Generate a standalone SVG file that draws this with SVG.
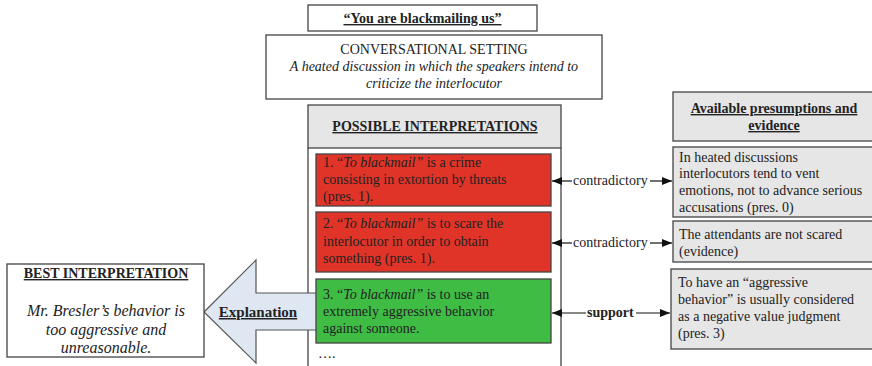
<svg xmlns="http://www.w3.org/2000/svg" width="872" height="366" viewBox="0 0 872 366">
<defs>
<style>
text{font-size:14px;fill:#222}
.b{font-weight:bold}
.u{text-decoration:underline}
.i{font-style:italic}
.c{text-anchor:middle}
.box{stroke:#444;stroke-width:1.3}
.gray{fill:#e6e6e6}
.wh{fill:#fff}
.red{fill:#e13428}
.green{fill:#3fbc44}
.ln{stroke:#111;stroke-width:1.2;fill:none;marker-end:url(#ah)}
</style>
<marker id="ah" viewBox="0 0 10 8" refX="10" refY="4" markerWidth="11" markerHeight="8" markerUnits="userSpaceOnUse" orient="auto">
<path d="M0,0 L10,4 L0,8 Z" fill="#111"/>
</marker>
</defs>
<rect width="872" height="366" fill="#fff"/>

<g id="title">
<rect class="box wh" x="308" y="5" width="229" height="26"/>
<text class="b u c" style="font-family:'Liberation Serif',serif" x="422.5" y="23">“You are blackmailing us”</text>
</g>

<g id="setting">
<rect class="box wh" x="266" y="35" width="336" height="64"/>
<text class="c" style="font-family:'Liberation Serif',serif" x="434" y="54">CONVERSATIONAL SETTING</text>
<text class="c i" style="font-family:'Liberation Serif',serif" x="434" y="71">A heated discussion in which the speakers intend to</text>
<text class="c i" style="font-family:'Liberation Serif',serif" x="434" y="88">criticize the interlocutor</text>
</g>

<g id="interpretations">
<path d="M308,148 V370 M561,148 V370" stroke="#444" stroke-width="1.3"/>
<rect class="box gray" x="308" y="105" width="253" height="43"/>
<text class="b u c" style="font-family:'Liberation Serif',serif" x="435" y="131">POSSIBLE INTERPRETATIONS</text>
<text style="font-family:'Liberation Serif',serif" x="318" y="358">….</text>
</g>

<g id="interp1">
<rect class="box red" x="316" y="154" width="235" height="52"/>
<text style="font-family:'Liberation Serif',serif" x="323" y="167">1. “<tspan class="i">To blackmail”</tspan> is a crime</text>
<text style="font-family:'Liberation Serif',serif" x="323" y="184">consisting in extortion by threats</text>
<text style="font-family:'Liberation Serif',serif" x="323" y="201">(pres. 1).</text>
</g>

<g id="interp2">
<rect class="box red" x="316" y="212" width="235" height="60"/>
<text style="font-family:'Liberation Serif',serif" x="323" y="228">2. “<tspan class="i">To blackmail”</tspan> is to scare the</text>
<text style="font-family:'Liberation Serif',serif" x="323" y="246">interlocutor in order to obtain</text>
<text style="font-family:'Liberation Serif',serif" x="323" y="263">something (pres. 1).</text>
</g>

<g id="evidence-header">
<rect class="box gray" x="673" y="92" width="210" height="49"/>
<text class="b u c" style="font-family:'Liberation Serif',serif" x="774" y="113">Available presumptions and</text>
<text class="b u c" style="font-family:'Liberation Serif',serif" x="774" y="130">evidence</text>
</g>

<g id="evidence1">
<rect class="box gray" x="673" y="147" width="210" height="70"/>
<text style="font-family:'Liberation Serif',serif" x="679" y="162">In heated discussions</text>
<text style="font-family:'Liberation Serif',serif" x="679" y="178">interlocutors tend to vent</text>
<text style="font-family:'Liberation Serif',serif" x="679" y="195">emotions, not to advance serious</text>
<text style="font-family:'Liberation Serif',serif" x="679" y="212">accusations (pres. 0)</text>
</g>

<g id="evidence2">
<rect class="box gray" x="673" y="221" width="210" height="41"/>
<text style="font-family:'Liberation Serif',serif" x="679" y="239">The attendants are not scared</text>
<text style="font-family:'Liberation Serif',serif" x="679" y="256">(evidence)</text>
</g>

<g id="evidence3">
<rect class="box gray" x="671" y="269" width="212" height="80"/>
<text style="font-family:'Liberation Serif',serif" x="678" y="287">To have an “aggressive</text>
<text style="font-family:'Liberation Serif',serif" x="678" y="304">behavior” is usually considered</text>
<text style="font-family:'Liberation Serif',serif" x="678" y="321">as a negative value judgment</text>
<text style="font-family:'Liberation Serif',serif" x="678" y="338">(pres. 3)</text>
</g>

<g id="explanation">
<polygon points="204,312 256,260 256,293 318,293 318,330 256,330 256,363" fill="#dfe7f3" stroke="#555" stroke-width="1.2"/>
<text class="b u c" style="font-family:'Liberation Serif',serif;font-size:15px" x="258" y="317">Explanation</text>
</g>

<g id="interp3">
<rect class="box green" x="316" y="279" width="235" height="64"/>
<text style="font-family:'Liberation Serif',serif" x="323" y="299">3. “<tspan class="i">To blackmail”</tspan> is to use an</text>
<text style="font-family:'Liberation Serif',serif" x="323" y="316">extremely aggressive behavior</text>
<text style="font-family:'Liberation Serif',serif" x="323" y="333">against someone.</text>
</g>

<g id="best">
<rect class="box wh" x="7" y="264" width="197" height="93"/>
<text class="b u c" style="font-family:'Liberation Serif',serif" x="106" y="278">BEST INTERPRETATION</text>
<text class="i c" style="font-family:'Liberation Serif',serif;font-size:16px" x="106" y="316">Mr. Bresler’s behavior is</text>
<text class="i c" style="font-family:'Liberation Serif',serif;font-size:16px" x="106" y="335">too aggressive and</text>
<text class="i c" style="font-family:'Liberation Serif',serif;font-size:16px" x="106" y="353">unreasonable.</text>
</g>

<g id="connectors">
<path class="ln" d="M572,181 H552"/>
<path class="ln" d="M650,181 H672"/>
<text style="font-family:'Liberation Serif',serif" x="573" y="185">contradictory</text>
<path class="ln" d="M572,243 H552"/>
<path class="ln" d="M650,243 H672"/>
<text style="font-family:'Liberation Serif',serif" x="573" y="247">contradictory</text>
<path class="ln" d="M586,313 H552"/>
<path class="ln" d="M636,313 H670"/>
<text class="b" style="font-family:'Liberation Serif',serif" x="587" y="317">support</text>
</g>
</svg>
